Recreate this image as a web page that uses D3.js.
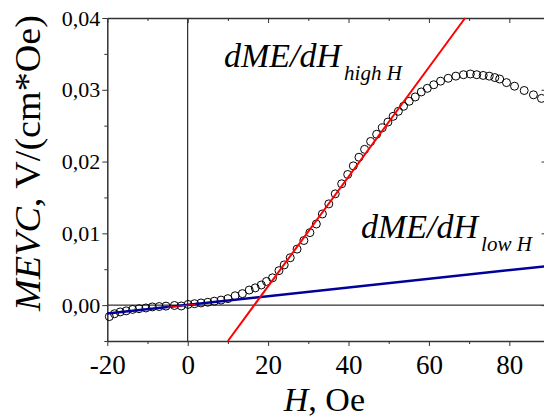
<!DOCTYPE html>
<html>
<head>
<meta charset="utf-8">
<script src="https://cdn.jsdelivr.net/npm/d3@7"></script>
<style>
  body { margin: 0; background: #fff; }
  svg { display: block; }
  .axis path, .axis line { stroke: #333; }
</style>
</head>
<body>
<svg id="chart" width="544" height="419"></svg>
<script>
// measured points, H in Oe, MEVC in V/(cm*Oe)
var fieldH = [-19.5, -18.2, -16.8, -15.3, -13.7, -12.1, -10.4, -8.8, -7.1, -5.4,
  -3.3, -1.6, 0.1, 1.7, 3.3, 5.0, 6.6, 8.3, 10.0, 11.8,
  13.6, 15.3, 16.8, 18.3, 19.6, 21.1, 22.7, 24.0, 25.5, 27.2,
  28.9, 30.4, 32.0, 33.5, 35.1, 36.7, 38.3, 39.8, 41.2, 42.6,
  44.0, 45.5, 47.0, 48.4, 49.8, 51.1, 52.4, 53.7, 55.1, 56.6,
  58.1, 59.6, 61.2, 62.9, 64.8, 66.7, 68.6, 70.3, 71.9, 73.5,
  75.0, 76.4, 77.6, 79.3, 81.3, 83.7, 86.0, 88.0];
var mevc = [-0.0016, -0.0012, -0.00095, -0.0008, -0.0006, -0.0005, -0.0004, -0.00025, -0.0002, -0.00014,
  -0.00005, -0.00012, 0.0001, 0.0002, 0.0003, 0.0004, 0.00055, 0.0007, 0.0009, 0.0013,
  0.0016, 0.0021, 0.0024, 0.0028, 0.0033, 0.0038, 0.0048, 0.0056, 0.0066, 0.0078,
  0.0090, 0.0101, 0.0113, 0.0127, 0.0141, 0.0155, 0.0169, 0.0182, 0.0194, 0.0206,
  0.0217, 0.0228, 0.0238, 0.0247, 0.0255, 0.0263, 0.0270, 0.0277, 0.0284, 0.0290,
  0.0297, 0.0302, 0.0307, 0.0312, 0.0316, 0.0319, 0.0321, 0.0322, 0.0321, 0.0320,
  0.0319, 0.0317, 0.0315, 0.0310, 0.0305, 0.0299, 0.0293, 0.0288];

// linear fits, as [H, MEVC] end points
var highFit = [[10, -0.005], [69, 0.04]];
var lowFit = [[-20, -0.00118], [95, 0.00578]];
var lowFitRed = [[-5, -0.0003], [2, 0.00012]];

var xTicks = [-20, 0, 20, 40, 60, 80];
var xMinor = [-10, 10, 30, 50, 70];
var yTicks = [0, 0.01, 0.02, 0.03, 0.04];
var yMinor = [-0.005, 0.005, 0.015, 0.025, 0.035];

var FONT = '"Liberation Serif"';

var svg = d3.select('#chart');
var mLeft = 107.3, mRight = 545.5, mTop = 18, mBottom = 341;

var x = d3.scaleLinear().domain([-20, 89]).range([mLeft, mRight]);
var y = d3.scaleLinear().domain([-0.005, 0.04]).range([mBottom, mTop]);

var comma = function(d) { return d3.format('.2f')(d).replace('.', ','); };
var plain = function(d) { return String(d); };

// zero lines
svg.append('line')
  .attr('x1', x(0)).attr('x2', x(0))
  .attr('y1', mTop).attr('y2', mBottom)
  .style('stroke', '#000').style('stroke-width', 1);
svg.append('line')
  .attr('x1', mLeft).attr('x2', mRight)
  .attr('y1', y(0)).attr('y2', y(0))
  .style('stroke', '#000').style('stroke-width', 1);

// axes
var gx = svg.append('g').attr('class', 'axis')
  .attr('transform', 'translate(0,' + mBottom + ')')
  .call(d3.axisBottom(x).tickValues(xTicks).tickSize(5).tickSizeOuter(0).tickFormat(plain));
gx.selectAll('text').style('font-size', '27px').attr('y', 14).attr('dy', '0.72em');
svg.append('g').attr('class', 'axis')
  .attr('transform', 'translate(0,' + mBottom + ')')
  .call(d3.axisBottom(x).tickValues(xMinor).tickSize(3).tickFormat(''))
  .select('.domain').remove();

svg.append('g').attr('class', 'axis')
  .attr('transform', 'translate(0,' + mTop + ')')
  .call(d3.axisBottom(x).tickValues(xTicks).tickSize(5).tickSizeOuter(0).tickFormat(''));
svg.append('g').attr('class', 'axis')
  .attr('transform', 'translate(0,' + mTop + ')')
  .call(d3.axisBottom(x).tickValues(xMinor).tickSize(3).tickFormat(''))
  .select('.domain').remove();

var gy = svg.append('g').attr('class', 'axis')
  .attr('transform', 'translate(' + mLeft + ',0)')
  .call(d3.axisLeft(y).tickValues(yTicks).tickSize(5).tickSizeOuter(0).tickFormat(comma));
gy.selectAll('text').style('font-size', '22px').attr('x', -7);
svg.append('g').attr('class', 'axis')
  .attr('transform', 'translate(' + mLeft + ',0)')
  .call(d3.axisLeft(y).tickValues(yMinor).tickSize(3).tickFormat(''))
  .select('.domain').remove();

svg.append('g').attr('class', 'axis')
  .attr('transform', 'translate(' + mRight + ',0)')
  .call(d3.axisLeft(y).tickValues(yTicks).tickSize(4).tickSizeOuter(0).tickFormat(''));

svg.selectAll('.axis path').style('stroke-width', 1.5);

// data points
var pts = fieldH.map(function(h, i) { return [h, mevc[i]]; });
svg.append('g').selectAll('circle')
  .data(pts)
  .enter()
  .append('circle')
  .attr('cx', d => x(d[0]))
  .attr('cy', d => y(d[1]))
  .attr('r', 4)
  .style('fill', 'none')
  .style('stroke', '#000')
  .style('stroke-width', 1);

// fit lines
var line = d3.line().x(d => x(d[0])).y(d => y(d[1]));
svg.append('path').attr('d', line(lowFit))
  .style('stroke', '#00009c').style('stroke-width', 2.5).style('fill', 'none');
svg.append('path').attr('d', line(lowFitRed))
  .style('stroke', '#ff0000').style('stroke-width', 1.2).style('fill', 'none');
svg.append('path').attr('d', line(highFit))
  .style('stroke', '#ff0000').style('stroke-width', 2).style('fill', 'none');

// annotations
var t1 = svg.append('text').attr('x', 224).attr('y', 67)
  .style('font-size', '34px').style('font-style', 'italic');
t1.append('tspan').text('dME/dH');
t1.append('tspan').attr('dx', 3).attr('dy', 13).style('font-size', '21px').text('high H');

var t2 = svg.append('text').attr('x', 361).attr('y', 238)
  .style('font-size', '34px').style('font-style', 'italic');
t2.append('tspan').text('dME/dH');
t2.append('tspan').attr('dx', 3).attr('dy', 13).style('font-size', '21px').text('low H');

// axis titles
var xt = svg.append('text')
  .attr('x', (mLeft + mRight) / 2 - 2).attr('y', 411)
  .attr('text-anchor', 'middle')
  .style('font-size', '34px');
xt.append('tspan').style('font-style', 'italic').text('H');
xt.append('tspan').text(', Oe');

// y title, held to the span it has in the figure
var yt = svg.append('text')
  .attr('transform', 'translate(40,311) rotate(-90)')
  .attr('text-anchor', 'start')
  .attr('textLength', 296)
  .attr('lengthAdjust', 'spacingAndGlyphs')
  .style('font-size', '36px');
yt.append('tspan').style('font-style', 'italic').text('MEVC');
yt.append('tspan').text(', V/(cm*Oe)');

svg.selectAll('text').style('font-family', FONT).style('fill', '#000');
</script>
</body>
</html>
